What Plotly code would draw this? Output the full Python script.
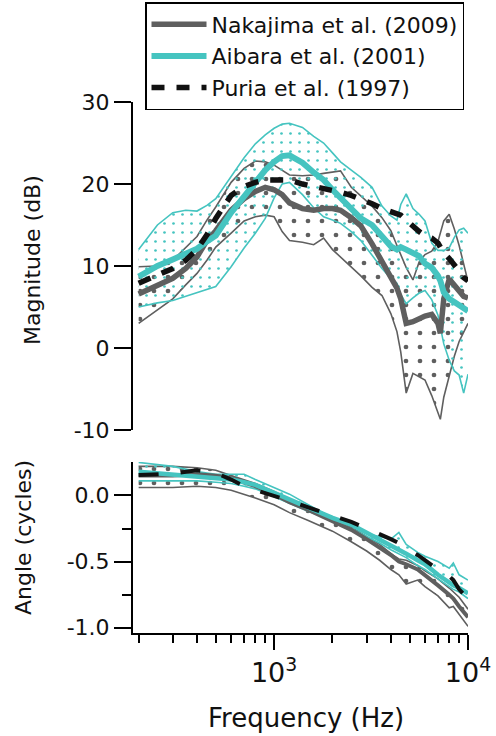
import plotly.graph_objects as go

# ---------------- data ----------------
freq_mag = [200, 250, 300, 350, 400, 450, 500, 600, 700, 800, 900, 1000, 1100, 1200,
            1400, 1600, 1800, 2000, 2200, 2500, 2800, 3200, 3600, 4000, 4300, 4500,
            4800, 5200, 5600, 6000, 6500, 7000, 7200, 7500, 8000, 8500, 9000, 9500, 10000]

nak_mag_mean = [6.6, 7.6, 8.5, 9.7, 11.1, 13.1, 14.3, 16.8, 18.2, 19.1, 19.6, 19.3, 18.7, 17.7,
                17.0, 16.8, 17.0, 17.0, 16.8, 15.9, 14.9, 12.7, 10.6, 8.8, 7.3, 6.0,
                3.0, 3.2, 3.6, 3.9, 4.1, 3.0, 1.8, 6.0, 8.4, 7.6, 6.8, 6.3, 6.1]
nak_mag_upper = [9.9, 10.0, 10.7, 12.3, 13.6, 15.6, 17.2, 20.2, 21.9, 22.8, 22.7, 22.3, 21.7, 21.1,
                 21.0, 21.1, 21.3, 21.5, 21.6, 19.6, 18.5, 17.3, 15.9, 14.3, 12.5, 11.4,
                 9.8, 8.3, 10.5, 11.4, 11.8, 13.0, 14.0, 15.5, 16.3, 14.5, 12.5, 10.3, 8.1]
nak_mag_lower = [3.0, 4.6, 6.0, 7.7, 9.1, 10.7, 12.3, 14.0, 15.5, 16.0, 16.2, 16.0, 14.2, 13.1,
                 12.9, 12.6, 13.4, 12.0, 11.1, 9.9, 8.8, 7.4, 6.4, 4.2, 2.0, -0.5,
                 -5.5, -3.1, -3.5, -3.9, -5.8, -8.0, -8.7, -6.0, -3.5, -1.0, 0.8, 2.0, 3.0]

aib_mag_mean = [8.7, 10.0, 10.8, 11.5, 12.1, 13.0, 13.7, 16.5, 18.4, 20.2, 21.7, 22.7, 23.4, 23.5,
                22.6, 21.4, 20.5, 19.3, 18.3, 17.0, 15.8, 15.0, 13.7, 12.4, 12.0, 12.3,
                12.0, 11.6, 11.2, 10.3, 9.8, 8.8, 8.2, 6.8, 6.0, 5.6, 5.2, 4.9, 4.5]
aib_mag_upper = [12.0, 15.0, 16.5, 16.8, 16.7, 17.4, 18.2, 21.0, 23.2, 24.9, 26.0, 26.8, 27.3, 27.4,
                 26.9, 25.8, 25.0, 23.8, 22.7, 21.7, 20.8, 19.6, 17.3, 16.1, 15.6, 17.5,
                 18.8, 17.0, 16.3, 15.5, 12.8, 11.9, 11.9, 11.9, 12.2, 13.5, 14.4, 14.6, 14.0]
aib_mag_lower = [5.0, 5.5, 5.8, 6.3, 6.8, 7.1, 7.5, 9.9, 12.2, 14.0, 15.8, 18.3, 20.0, 20.2,
                 18.7, 17.1, 16.0, 15.6, 15.2, 14.2, 13.1, 11.3, 9.7, 8.5, 7.9, 6.5,
                 5.4, 6.1, 6.7, 7.0, 5.9, 4.0, 2.5, 0.5, -1.5, -2.8, -3.3, -5.5, -3.2]

puria_mag = [7.9, 8.9, 9.7, 10.7, 12.0, 13.8, 15.8, 18.6, 19.7, 20.2, 20.5, 20.5, 20.5, 20.5,
             20.0, 19.7, 19.5, 19.3, 19.0, 18.6, 18.2, 17.6, 17.0, 16.6, 16.4, 16.2,
             15.6, 14.8, 14.2, 13.7, 13.4, 12.8, 12.3, 11.6, 10.9, 10.2, 9.4, 8.6, 8.2]

freq_ang = [200, 300, 400, 500, 600, 700, 800, 1000, 1200, 1500, 2000, 2500, 3000,
            3500, 4000, 4400, 4800, 5500, 6000, 7000, 8000, 8400, 9000, 10000]

nak_ang_mean = [0.15, 0.15, 0.16, 0.15, 0.13, 0.10, 0.07, 0.01, -0.05, -0.11, -0.19, -0.26, -0.33,
                -0.39, -0.45, -0.50, -0.52, -0.56, -0.60, -0.68, -0.75, -0.78, -0.84, -0.92]
nak_ang_upper = [0.22, 0.22, 0.21, 0.19, 0.15, 0.12, 0.09, 0.03, -0.03, -0.09, -0.17, -0.24, -0.31,
                 -0.37, -0.44, -0.48, -0.49, -0.53, -0.57, -0.63, -0.70, -0.73, -0.77, -0.86]
nak_ang_lower = [0.06, 0.06, 0.07, 0.06, 0.04, 0.01, -0.02, -0.07, -0.13, -0.19, -0.27, -0.35, -0.42,
                 -0.49, -0.56, -0.60, -0.67, -0.64, -0.69, -0.76, -0.85, -0.84, -0.90, -0.99]

aib_ang_mean = [0.18, 0.16, 0.14, 0.13, 0.12, 0.10, 0.08, 0.02, -0.03, -0.09, -0.17, -0.22, -0.28,
                -0.33, -0.38, -0.41, -0.44, -0.49, -0.52, -0.60, -0.66, -0.68, -0.70, -0.74]
aib_ang_upper = [0.25, 0.22, 0.18, 0.16, 0.16, 0.16, 0.12, 0.06, 0.01, -0.07, -0.17, -0.23, -0.29,
                 -0.31, -0.33, -0.28, -0.37, -0.43, -0.46, -0.50, -0.55, -0.51, -0.60, -0.64]
aib_ang_lower = [0.11, 0.11, 0.11, 0.10, 0.09, 0.07, 0.05, -0.01, -0.06, -0.12, -0.19, -0.25, -0.31,
                 -0.36, -0.41, -0.44, -0.47, -0.53, -0.56, -0.63, -0.69, -0.71, -0.73, -0.78]

puria_ang = [0.155, 0.165, 0.19, 0.17, 0.12, 0.07, 0.04, 0.0, -0.04, -0.09, -0.15, -0.20, -0.25,
             -0.29, -0.33, -0.36, -0.40, -0.45, -0.49, -0.56, -0.61, -0.64, -0.71, -0.78]

series_names = ["Nakajima et al. (2009)", "Aibara et al. (2001)", "Puria et al. (1997)"]
mag_ticks = [-10, 0, 10, 20, 30]
ang_ticks = [-1.0, -0.5, 0.0]
ang_minor_ticks = [-0.75, -0.25]
x_major_ticks = [1000, 10000]
x_major_labels = ["10<sup>3</sup>", "10<sup>4</sup>"]
x_minor_ticks = [200, 300, 400, 500, 600, 700, 800, 900, 2000, 3000, 4000, 5000, 6000, 7000, 8000, 9000]

# ---------------- styles ----------------
TURQ = "#45c4c0"
GRAY = "#5f5f5f"
BLACK = "#111111"
FONT = "DejaVu Sans"
CLEAR = "rgba(0,0,0,0)"

fig = go.Figure()


def band(x, lo, hi, color, pat_size, solidity, xa, ya, width=1.6):
    fig.add_trace(go.Scatter(x=x, y=lo, mode="lines", line=dict(color=color, width=width),
                             showlegend=False, xaxis=xa, yaxis=ya, hoverinfo="skip"))
    fig.add_trace(go.Scatter(x=x, y=hi, mode="lines", line=dict(color=color, width=width),
                             fill="tonexty", fillcolor=CLEAR,
                             fillpattern=dict(shape=".", fgcolor=color, bgcolor=CLEAR,
                                              size=pat_size, solidity=solidity, fillmode="replace"),
                             showlegend=False, xaxis=xa, yaxis=ya, hoverinfo="skip"))


# top panel
band(freq_mag, nak_mag_lower, nak_mag_upper, GRAY, 14, 0.09, "x", "y")
band(freq_mag, aib_mag_lower, aib_mag_upper, TURQ, 9, 0.07, "x", "y")
fig.add_trace(go.Scatter(x=freq_mag, y=nak_mag_mean, mode="lines", name=series_names[0],
                         line=dict(color=GRAY, width=5.5), xaxis="x", yaxis="y"))
fig.add_trace(go.Scatter(x=freq_mag, y=aib_mag_mean, mode="lines", name=series_names[1],
                         line=dict(color=TURQ, width=6), xaxis="x", yaxis="y"))
fig.add_trace(go.Scatter(x=freq_mag, y=puria_mag, mode="lines", name=series_names[2],
                         line=dict(color=BLACK, width=5.5, dash="13px,12px"), xaxis="x", yaxis="y"))

# bottom panel
band(freq_ang, nak_ang_lower, nak_ang_upper, GRAY, 14, 0.09, "x2", "y2")
band(freq_ang, aib_ang_lower, aib_ang_upper, TURQ, 9, 0.07, "x2", "y2")
fig.add_trace(go.Scatter(x=freq_ang, y=nak_ang_mean, mode="lines", showlegend=False,
                         line=dict(color=GRAY, width=4), xaxis="x2", yaxis="y2"))
fig.add_trace(go.Scatter(x=freq_ang, y=aib_ang_mean, mode="lines", showlegend=False,
                         line=dict(color=TURQ, width=4.5), xaxis="x2", yaxis="y2"))
fig.add_trace(go.Scatter(x=freq_ang, y=puria_ang, mode="lines", showlegend=False,
                         line=dict(color=BLACK, width=4, dash="20px,22px"), xaxis="x2", yaxis="y2"))

L, R, T, B = 133, 28, 102, 103
W, H = 496, 736
ph = H - T - B  # 531
top_dom = [(633 - 430) / ph, 1.0]
bot_dom = [0.0, (633 - 462) / ph]

axis_common = dict(showline=True, linecolor="black", linewidth=2, ticks="outside",
                   tickcolor="black", tickwidth=2, showgrid=False, zeroline=False,
                   tickfont=dict(family=FONT, size=22, color="#111"))

fig.update_layout(
    width=W, height=H,
    margin=dict(l=L, r=R, t=T, b=B, autoexpand=False),
    paper_bgcolor="white", plot_bgcolor="white",
    font=dict(family=FONT, color="#111"),
    xaxis=dict(type="log", range=[2.272, 4.0], domain=[0, 1], anchor="y",
               matches="x2", visible=False),
    xaxis2=dict(type="log", range=[2.272, 4.0], domain=[0, 1], anchor="y2",
                tickmode="array", tickvals=x_major_ticks, ticktext=x_major_labels, ticklen=15,
                minor=dict(tickmode="array", tickvals=x_minor_ticks, ticklen=8, tickwidth=2,
                           ticks="outside", tickcolor="black"),
                **{**axis_common, "tickfont": dict(family=FONT, size=27, color="#111")}),
    yaxis=dict(domain=top_dom, range=[-10, 30], anchor="x", tickmode="array",
               tickvals=mag_ticks, ticktext=[str(v) for v in mag_ticks],
               ticklen=17, **axis_common),
    yaxis2=dict(domain=bot_dom, range=[-1.04, 0.253], anchor="x2", tickmode="array",
                tickvals=ang_ticks, ticktext=["%.1f" % v for v in ang_ticks], ticklen=17,
                minor=dict(tickmode="array", tickvals=ang_minor_ticks, ticklen=9, tickwidth=2,
                           ticks="outside", tickcolor="black"),
                **axis_common),
    legend=dict(x=(145 - L) / 335, y=(633 - 2) / ph, xanchor="left", yanchor="top",
                bgcolor="white", bordercolor="black", borderwidth=1.5,
                font=dict(family=FONT, size=22, color="#111"), itemwidth=55,
                traceorder="normal", tracegroupgap=0),
    showlegend=True,
    annotations=[
        dict(text="Magnitude (dB)", textangle=-90, xref="paper", yref="paper",
             x=(32 - L) / 335, y=(633 - 260) / ph, xanchor="center", yanchor="middle",
             showarrow=False, font=dict(family=FONT, size=22, color="#111")),
        dict(text="Angle (cycles)", textangle=-90, xref="paper", yref="paper",
             x=(23 - L) / 335, y=(633 - 538) / ph, xanchor="center", yanchor="middle",
             showarrow=False, font=dict(family=FONT, size=22, color="#111")),
        dict(text="Frequency (Hz)", xref="paper", yref="paper",
             x=(306 - L) / 335, y=(633 - 718) / ph, xanchor="center", yanchor="middle",
             showarrow=False, font=dict(family=FONT, size=26, color="#111")),
    ],
)

fig.write_html("out.html")
